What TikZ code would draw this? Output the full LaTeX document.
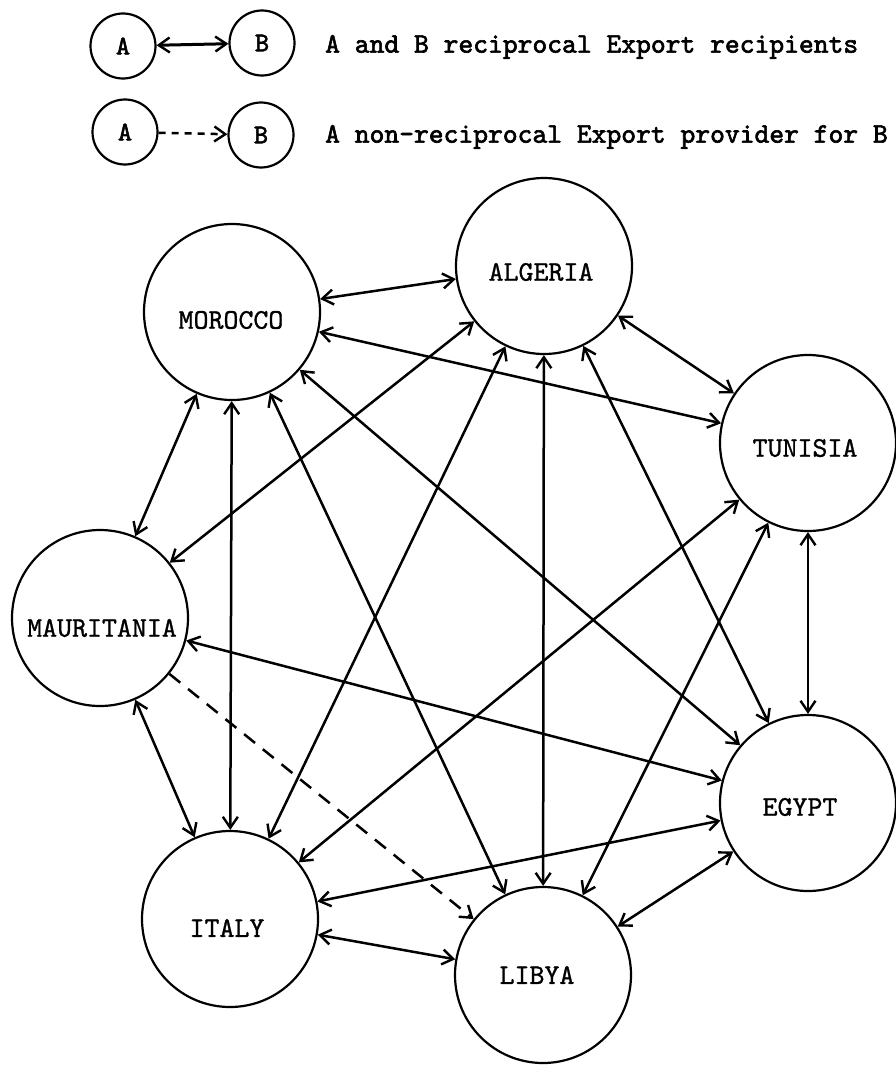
\documentclass[tikz,border=0pt]{standalone}
\usepackage{fontspec}
\usetikzlibrary{arrows.meta}
% typewriter faces: a heavier one for the key, a medium one for the countries
\newfontfamily\keyface{lmmono10-regular}[Extension=.otf, FakeBold=2.2]
\newfontfamily\nameface{lmmono10-regular}[Extension=.otf, FakeBold=1.0]
\begin{document}
\begin{tikzpicture}[x=1pt,y=-1pt,
  country/.style={circle, draw, line width=2.2pt, minimum size=176pt, inner sep=0pt},
  keynode/.style={circle, draw, line width=2.2pt, minimum size=65pt, inner sep=0pt,
    font=\keyface\fontsize{27}{29}\selectfont},
  cname/.style={font=\nameface\fontsize{28.5}{30}\selectfont, inner sep=0pt},
  keytext/.style={anchor=west, inner sep=0pt,
    font=\keyface\fontsize{28.2}{30}\selectfont},
  barb/.tip={Straight Barb[length=11pt,width=15pt,line width=2.4pt]},
  recip/.style={line width=2.5pt, barb-barb},
  oneway/.style={line width=2.5pt, -barb, dash pattern=on 14pt off 10pt},
]
\useasboundingbox (0,0) rectangle (896,1065);

% key
\node[keynode] (ka1) at (123,46) {A};
\node[keynode] (kb1) at (262,43) {B};
\node[keynode] (ka2) at (125,132) {A};
\node[keynode] (kb2) at (261,135) {B};
\draw[recip, line width=3pt] (ka1) -- (kb1);
\draw[oneway, dash pattern=on 7pt off 6pt] (ka2) -- (kb2);
\node[keytext] (kt1) at (325,47) {A and B reciprocal Export recipients};
\node[keytext] (kt2) at (325,137) {A non-reciprocal Export provider for B};

% countries
\node[country] (mor) at (232,312) {};
\node[country] (alg) at (544,266) {};
\node[country] (tun) at (808,443) {};
\node[country] (mau) at (100,618) {};
\node[country] (egy) at (808,803) {};
\node[country] (ita) at (230,919) {};
\node[country] (lib) at (543,975) {};

\node[cname] (morl) at (231,320) {MOROCCO};
\node[cname] (algl) at (541,272) {ALGERIA};
\node[cname] (tunl) at (805,448) {TUNISIA};
\node[cname] (maul) at (102,628) {MAURITANIA};
\node[cname] (egyl) at (800,807) {EGYPT};
\node[cname] (ital) at (227,928) {ITALY};
\node[cname] (libl) at (537,975) {LIBYA};

% reciprocal export links
\draw[recip] (mor) -- (alg);
\draw[recip] (mor) -- (tun);
\draw[recip] (mor) -- (egy);
\draw[recip] (mor) -- (lib);
\draw[recip] (mor) -- (ita);
\draw[recip] (mor) -- (mau);
\draw[recip] (alg) -- (mau);
\draw[recip] (alg) -- (ita);
\draw[recip] (alg) -- (lib);
\draw[recip] (alg) -- (egy);
\draw[recip] (alg) -- (tun);
\draw[recip] (tun) -- (ita);
\draw[recip] (tun) -- (lib);
\draw[recip] (tun) -- (egy);
\draw[recip] (mau) -- (egy);
\draw[recip] (mau) -- (ita);
\draw[recip] (ita) -- (egy);
\draw[recip] (ita) -- (lib);
\draw[recip] (egy) -- (lib);

% non-reciprocal link
\draw[oneway] (mau) -- (lib);
\end{tikzpicture}
\end{document}
